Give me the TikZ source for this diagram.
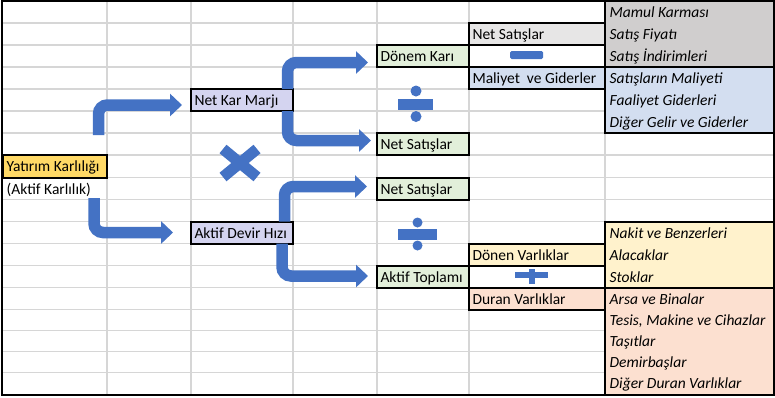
\documentclass[tikz,border=0pt]{standalone}
\usepackage{fontspec}
\setmainfont{Carlito}
\usetikzlibrary{arrows.meta}
\definecolor{arrblue}{HTML}{4472C4}
\definecolor{gridgray}{HTML}{D6D6D6}
\definecolor{gold}{HTML}{FFD966}
\definecolor{lav}{HTML}{D4D4F0}
\definecolor{lgreen}{HTML}{E2EFDA}
\definecolor{lgray}{HTML}{E7E6E6}
\definecolor{mgray}{HTML}{D0CECE}
\definecolor{lblue}{HTML}{D3DEF0}
\definecolor{lyellow}{HTML}{FFF2CC}
\definecolor{salmon}{HTML}{FCE0D0}
\newcommand{\xcell}[7]{%
  \pgfmathsetmacro\mycw{#4-#2-7}%
  \pgfmathsetmacro\mych{#5-#3}%
  \node[cellbox, fill=#6, minimum height=\mych pt] (#1) at ({(#2+#4)/2},{(#3+#5)/2}) {\makebox[\mycw pt][l]{#7}};}
\begin{document}
\begin{tikzpicture}[x=1pt,y=-1pt,
  cellbox/.style={draw=black, line width=2pt, inner xsep=3.5pt, inner ysep=0pt,
    text height=11pt, text depth=0pt, font=\fontsize{15.5}{18}\selectfont},
  rtxt/.style={anchor=base west, inner sep=0pt, font=\fontsize{15.5}{18}\selectfont},
  itxt/.style={anchor=base west, inner sep=0pt, font=\fontsize{15.5}{18}\selectfont\itshape},
  arr/.style={draw=arrblue, line width=11.5pt, rounded corners=9pt,
    -{Triangle[length=12pt,width=22pt]}},
  symb/.style={fill=arrblue, draw=none},
  gridl/.style={draw=gridgray, line width=1.2pt}
]
\useasboundingbox (0,0) rectangle (775,397);
\fill[white] (0,0) rectangle (775,397);
% grid
\foreach \gx in {107,191,293,377,469,605} {\draw[gridl] (\gx,1) -- (\gx,394.5);}
\foreach \gy in {23,45,67,89,111,133,155,177.5,199.5,221.5,243.5,265.5,287.5,309.5,330.5,351.5,372.5} {\draw[gridl] (2,\gy) -- (774,\gy);}
\draw[black, line width=2pt] (2,1) rectangle (774,395);

% boxes
\xcell{yat}{3}{155}{106.5}{177.5}{gold}{Yatırım Karlılığı}
\node[rtxt] (akt) at (6.5,194) {(Aktif Karlılık)};
\xcell{nkm}{191}{89}{293}{111}{lav}{Net Kar Marjı}
\xcell{adh}{191}{221.5}{293}{243.5}{lav}{Aktif Devir Hızı}
\xcell{dk}{377}{45}{469}{67}{lgreen}{Dönem Karı}
\xcell{nsa}{377}{133}{469}{155}{lgreen}{Net Satışlar}
\xcell{nsb}{377}{177.5}{469}{199.5}{lgreen}{Net Satışlar}
\xcell{at}{377}{265.5}{469}{287.5}{lgreen}{Aktif Toplamı}
\xcell{nsc}{469}{23}{605}{45}{lgray}{Net Satışlar}
\xcell{mcell}{469}{45}{605}{67}{white}{}
\xcell{mg}{469}{67}{605}{89}{lblue}{Maliyet\ \ ve Giderler}
\xcell{dv}{469}{243.5}{605}{265.5}{lyellow}{Dönen Varlıklar}
\xcell{pcell}{469}{265.5}{605}{287.5}{white}{}
\xcell{duv}{469}{287.5}{605}{309.5}{salmon}{Duran Varlıklar}

% blocks
\xcell{gblk}{605}{1}{774}{67}{mgray}{}
\xcell{bblk}{605}{67}{774}{133}{lblue}{}
\xcell{yblk}{605}{221.5}{774}{287.5}{lyellow}{}
\xcell{sblk}{605}{287.5}{774}{394.5}{salmon}{}

\node[itxt] (g1) at (609.5,17.5) {Mamul Karması};
\node[itxt] (g2) at (609.5,39.5) {Satış Fiyatı};
\node[itxt] (g3) at (609.5,61.5) {Satış İndirimleri};
\node[itxt] (b1) at (609.5,83.5) {Satışların Maliyeti};
\node[itxt] (b2) at (609.5,105.5) {Faaliyet Giderleri};
\node[itxt] (b3) at (609.5,127.5) {Diğer Gelir ve Giderler};
\node[itxt] (y1) at (609.5,238) {Nakit ve Benzerleri};
\node[itxt] (y2) at (609.5,260) {Alacaklar};
\node[itxt] (y3) at (609.5,282) {Stoklar};
\node[itxt] (s1) at (609.5,304) {Arsa ve Binalar};
\node[itxt] (s2) at (609.5,325.5) {Tesis, Makine ve Cihazlar};
\node[itxt] (s3) at (609.5,346.5) {Taşıtlar};
\node[itxt] (s4) at (609.5,367.5) {Demirbaşlar};
\node[itxt] (s5) at (609.5,388.5) {Diğer Duran Varlıklar};

% arrow end points
\coordinate (a1s) at (98.5,135);  \coordinate (a1e) at (182,105);
\coordinate (a2s) at (94,198);    \coordinate (a2e) at (173,232.5);
\coordinate (a3s) at (287.5,89);  \coordinate (a3e) at (368,62.5);
\coordinate (a4s) at (287.5,111); \coordinate (a4e) at (371,140.5);
\coordinate (a5s) at (284.5,221.5); \coordinate (a5e) at (367,186.5);
\coordinate (a6s) at (282,243.5); \coordinate (a6e) at (368,276);
\draw[arr] (a1s) |- (a1e);
\draw[arr] (a2s) |- (a2e);
\draw[arr] (a3s) |- (a3e);
\draw[arr] (a4s) |- (a4e);
\draw[arr] (a5s) |- (a5e);
\draw[arr] (a6s) |- (a6e);

% operators
\draw[arrblue, line width=11pt] (223,149) -- (257,177) (223,177) -- (257,149);
\fill[symb] (398,98.5) rectangle (433,110);
\fill[symb] (416,91) circle (5.5);
\fill[symb] (416,116.5) circle (5.5);
\fill[symb] (398,229) rectangle (437,240);
\fill[symb] (417.5,222.5) circle (5);
\fill[symb] (417.5,245.5) circle (5);
\fill[symb, rounded corners=1.5pt] (510,51) rectangle (543,59);
\fill[symb] (515,272) rectangle (548,278);
\fill[symb] (528.5,269) rectangle (534.5,284);
\end{tikzpicture}
\end{document}
